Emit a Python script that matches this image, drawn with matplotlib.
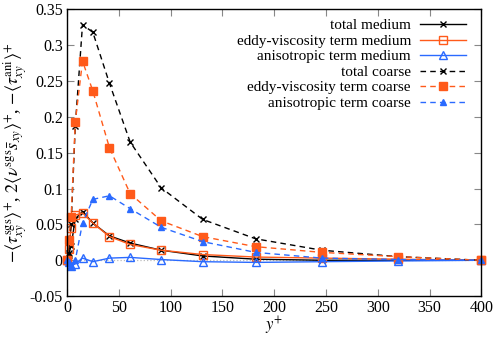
import matplotlib
matplotlib.use("Agg")
import matplotlib.pyplot as plt

plt.rcParams['font.family'] = ['Liberation Serif', 'DejaVu Serif']
plt.rcParams['mathtext.fontset'] = 'stix'

yplus = [0, 1.5, 4, 8, 15, 25, 41, 61, 91, 131, 182, 246, 320, 400]

total_medium = [0, 0.008, 0.02, 0.058, 0.068, 0.052, 0.034, 0.024, 0.014, 0.006, 0.0015, 0.0, 0.0, 0.0]
eddy_medium = [0, 0.016, 0.045, 0.063, 0.066, 0.052, 0.033, 0.022, 0.014, 0.008, 0.0045, 0.003, 0.0015, 0.0]
aniso_medium = [0, -0.003, -0.008, -0.005, 0.003, -0.002, 0.003, 0.004, 0.001, -0.002, -0.003, -0.002, -0.001, 0.0]
total_coarse = [0, 0.01, 0.05, 0.187, 0.329, 0.318, 0.247, 0.165, 0.101, 0.057, 0.030, 0.014, 0.005, 0.0]
eddy_coarse = [0, 0.028, 0.06, 0.193, 0.278, 0.236, 0.157, 0.093, 0.055, 0.033, 0.019, 0.011, 0.005, 0.0]
aniso_coarse = [0, -0.003, -0.008, 0.0, 0.052, 0.085, 0.090, 0.072, 0.046, 0.026, 0.011, 0.003, 0.001, 0.0]

labels = ["total medium", "eddy-viscosity term medium", "anisotropic term medium",
          "total coarse", "eddy-viscosity term coarse", "anisotropic term coarse"]

xticks = [0, 50, 100, 150, 200, 250, 300, 350, 400]
yticks = [-0.05, 0, 0.05, 0.1, 0.15, 0.2, 0.25, 0.3, 0.35]
ytick_labels = ["-0.05", "0", "0.05", "0.1", "0.15", "0.2", "0.25", "0.3", "0.35"]

orange = '#ff5a1a'
blue = '#2a6aff'

fig = plt.figure(figsize=(4.98, 3.38), dpi=100)
ax = fig.add_axes([0.1345, 0.124, 0.832, 0.848])

ax.axhline(0, color='#bbbbbb', lw=0.9, ls=':', zorder=0)

dash = (0, (4, 3))
ax.plot(yplus, total_medium, color='black', lw=1.0, marker='x', ms=5, mew=1.0, label=labels[0])
ax.plot(yplus, eddy_medium, color=orange, lw=1.0, marker='s', ms=5.5, mfc='none', mew=1.0, label=labels[1])
ax.plot(yplus, aniso_medium, color=blue, lw=1.0, marker='^', ms=5.5, mfc='none', mew=1.0, label=labels[2])
ax.plot(yplus, total_coarse, color='black', lw=1.0, ls=dash, marker='x', ms=5, mew=1.0, label=labels[3])
ax.plot(yplus, eddy_coarse, color=orange, lw=1.0, ls=dash, marker='s', ms=5.5, label=labels[4])
ax.plot(yplus, aniso_coarse, color=blue, lw=1.0, ls=dash, marker='^', ms=5, label=labels[5])

for l in ax.get_lines()[1:]:
    l.set_clip_on(False)

ax.set_xlim(0, 400)
ax.set_ylim(-0.05, 0.35)
ax.set_xticks(xticks)
ax.set_xticklabels([str(t) for t in xticks])
ax.set_yticks(yticks)
ax.set_yticklabels(ytick_labels)
ax.tick_params(direction='in', length=5, width=0.8, color='#888888', top=True, right=True,
               labelsize=11.5, pad=3)
for s in ax.spines.values():
    s.set_linewidth(1.0)

ax.set_xlabel(r'$y^{+}$', fontsize=12, labelpad=-1)
ax.set_ylabel(r'$-\langle\tau_{xy}^{\rm sgs}\rangle^{+}$, $2\langle\nu^{\rm sgs}\bar{s}_{xy}\rangle^{+}$, $-\langle\tau_{xy}^{\rm ani}\rangle^{+}$',
              fontsize=13, labelpad=0)

leg = ax.legend(loc='upper right', frameon=False, markerfirst=False, fontsize=11,
                handlelength=3.0, labelspacing=0.12, borderaxespad=0.2, handletextpad=0.6,
                bbox_to_anchor=(0.985, 1.0))
for t in leg.get_texts():
    t.set_ha('right')
leg._legend_box.align = 'right'

fig.savefig('out.png', dpi=100)
